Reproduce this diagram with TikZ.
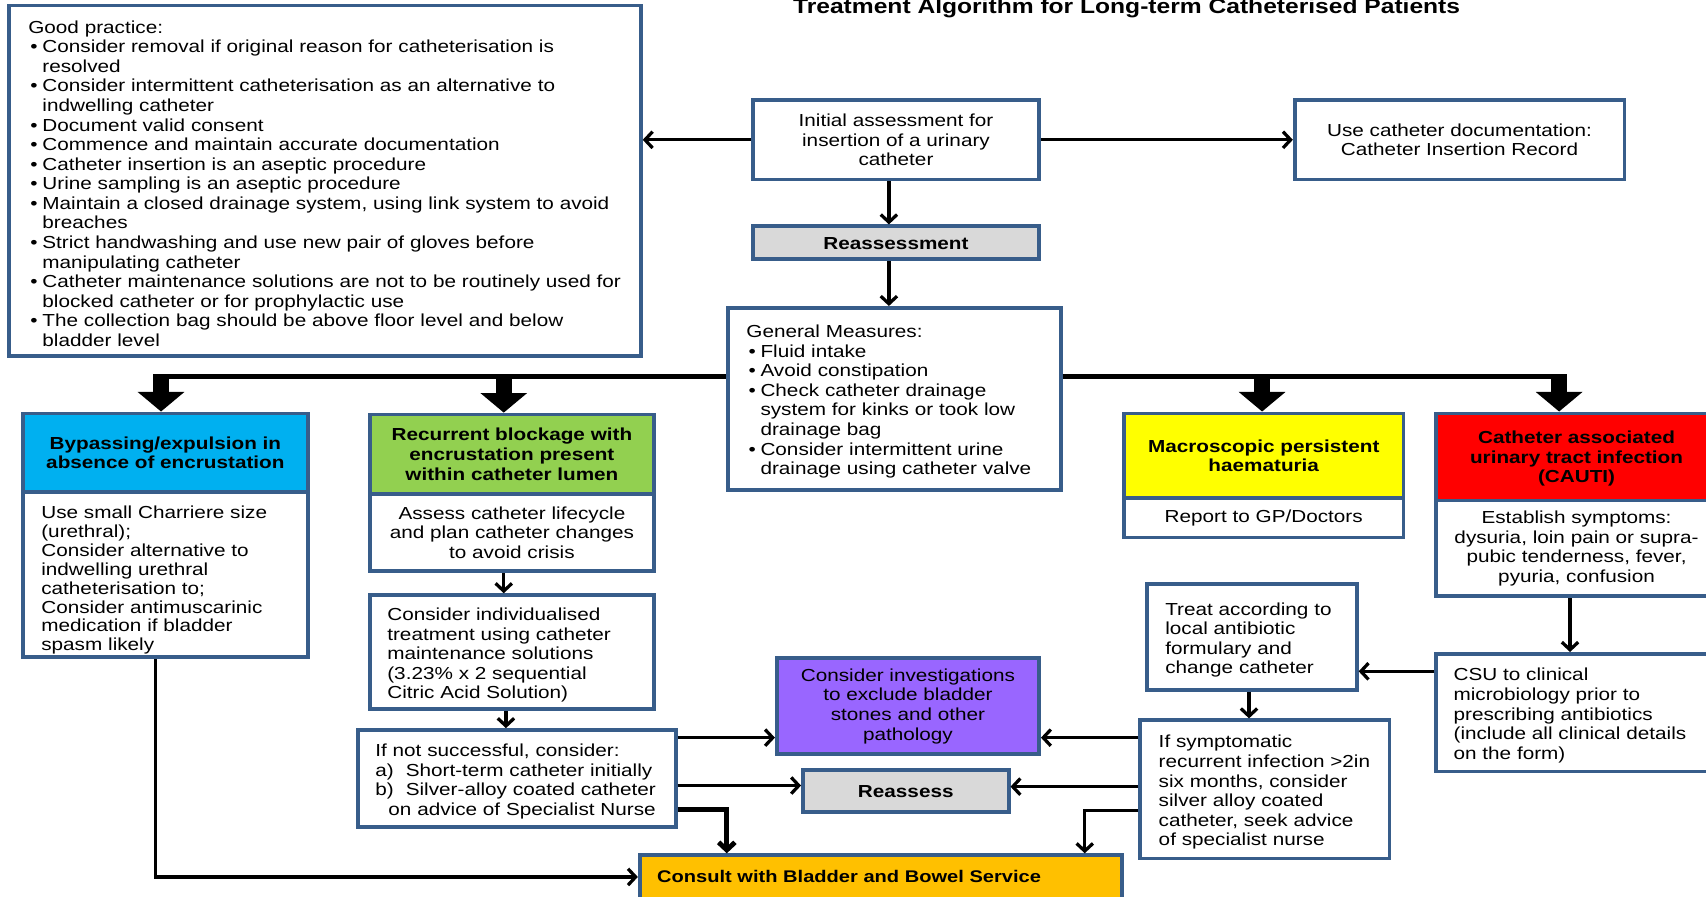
\documentclass[tikz,border=0pt]{standalone}
\usepackage{fontspec}
\setmainfont{Liberation Sans}[FakeStretch=1.19]
\usetikzlibrary{arrows.meta}
\definecolor{bordc}{RGB}{56,93,138}
\definecolor{cblue}{RGB}{0,176,240}
\definecolor{cgreen}{RGB}{146,208,80}
\definecolor{cyellow}{RGB}{255,255,0}
\definecolor{cred}{RGB}{255,0,0}
\definecolor{cpurple}{RGB}{153,102,255}
\definecolor{cgray}{RGB}{217,217,217}
\definecolor{corange}{RGB}{255,192,0}
\newcommand\normfont{\fontsize{16}{18}\selectfont}
\newcommand\topstrut{\rule{0pt}{17pt}}
\newcommand\bulline[1]{\mbox{\makebox[13pt][l]{\hspace*{2pt}•}#1}}
\newcommand\contline[1]{\mbox{\hspace*{13pt}#1}}
\begin{document}
\begin{tikzpicture}[x=1pt,y=-1pt,
  font=\normfont,
  box/.style={draw=bordc, line width=3.5pt, fill=white, inner ysep=0pt},
  cbox/.style={box, align=center, inner xsep=0pt},
  lbox/.style={box, align=left},
  hdr/.style={font=\normfont\bfseries},
  arr/.style={draw=black, line width=3pt, -{Straight Barb[length=7pt,width=15pt]}},
  arrthick/.style={arr, line width=4.5pt},
  barline/.style={draw=black, line width=4pt},
  bigarrow/.style={draw=black, line width=15pt, -{Triangle[length=18pt,width=42pt]}}
]
\useasboundingbox (0,0) rectangle (1568,824);

% title
\node[font=\fontsize{19}{22}\selectfont\bfseries, anchor=base] (title) at (1035.5,12.5)
  {Treatment Algorithm for Long-term Catheterised Patients};

% good practice
\node[lbox, text width=545pt, inner xsep=18pt, minimum height=322pt] (gp) at (298.5,166) {%
\topstrut\mbox{Good practice:}\\
\bulline{Consider removal if original reason for catheterisation is}\\
\contline{resolved}\\
\bulline{Consider intermittent catheterisation as an alternative to}\\
\contline{indwelling catheter}\\
\bulline{Document valid consent}\\
\bulline{Commence and maintain accurate documentation}\\
\bulline{Catheter insertion is an aseptic procedure}\\
\bulline{Urine sampling is an aseptic procedure}\\
\bulline{Maintain a closed drainage system, using link system to avoid}\\
\contline{breaches}\\
\bulline{Strict handwashing and use new pair of gloves before}\\
\contline{manipulating catheter}\\
\bulline{Catheter maintenance solutions are not to be routinely used for}\\
\contline{blocked catheter or for prophylactic use}\\
\bulline{The collection bag should be above floor level and below}\\
\contline{bladder level}};

% top chain
\node[cbox, minimum width=263pt, minimum height=73pt] (init) at (823.5,128.5)
  {Initial assessment for\\insertion of a urinary\\catheter};
\node[cbox, minimum width=303pt, minimum height=73pt] (doc) at (1341.5,128.5)
  {Use catheter documentation:\\Catheter Insertion Record};
\node[cbox, hdr, fill=cgray, minimum width=263pt, minimum height=30pt] (reass) at (823.5,223)
  {\rule{0pt}{13pt}Reassessment};

% general measures
\node[lbox, text width=272pt, inner xsep=17pt, minimum height=167pt] (gm) at (822,366.5) {%
\topstrut\mbox{General Measures:}\\
\bulline{Fluid intake}\\
\bulline{Avoid constipation}\\
\bulline{Check catheter drainage}\\
\contline{system for kinks or took low}\\
\contline{drainage bag}\\
\bulline{Consider intermittent urine}\\
\contline{drainage using catheter valve}};

% bypassing column
\node[cbox, hdr, fill=cblue, minimum width=262pt, minimum height=72pt] (bypH) at (152,416)
  {Bypassing/expulsion in\\absence of encrustation};
\node[lbox, font=\fontsize{16}{17.4}\selectfont, text width=228pt, inner xsep=17pt, minimum height=152pt] (bypB) at (152,528) {%
\rule{0pt}{22pt}\mbox{Use small Charriere size}\\
\mbox{(urethral);}\\
\mbox{Consider alternative to}\\
\mbox{indwelling urethral}\\
\mbox{catheterisation to;}\\
\mbox{Consider antimuscarinic}\\
\mbox{medication if bladder}\\
\mbox{spasm likely}};

% recurrent blockage column
\node[cbox, hdr, fill=cgreen, minimum width=261pt, minimum height=73pt] (recH) at (470.5,417.5)
  {Recurrent blockage with\\encrustation present\\within catheter lumen};
\node[cbox, minimum width=261pt, minimum height=71pt] (recB) at (470.5,489.5)
  {Assess catheter lifecycle\\and plan catheter changes\\to avoid crisis};
\node[lbox, text width=229pt, inner xsep=16pt, minimum height=105pt] (ind) at (470.5,599.5) {%
\topstrut\mbox{Consider individualised}\\
\mbox{treatment using catheter}\\
\mbox{maintenance solutions}\\
\mbox{(3.23\% x 2 sequential}\\
\mbox{Citric Acid Solution)}};
\node[lbox, text width=260pt, inner xsep=16pt, minimum height=89pt] (nots) at (475,715.5) {%
\topstrut\mbox{If not successful, consider:}\\
\mbox{\makebox[28pt][l]{a)}Short-term catheter initially}\\
\mbox{\makebox[28pt][l]{b)}Silver-alloy coated catheter}\\
\mbox{\hspace*{12pt}on advice of Specialist Nurse}};

% centre bottom
\node[cbox, fill=cpurple, minimum width=241pt, minimum height=88pt] (inv) at (834.5,649)
  {Consider investigations\\to exclude bladder\\stones and other\\pathology};
\node[cbox, hdr, fill=cgray, minimum width=189pt, minimum height=38pt] (reas2) at (832.5,727)
  {\rule{0pt}{13pt}Reassess};
\node[lbox, font=\fontsize{15.5}{18}\selectfont\bfseries, fill=corange, text width=411pt, inner xsep=16pt, minimum height=40pt] (cons) at (809.5,806)
  {\mbox{Consult with Bladder and Bowel Service}};

% haematuria column
\node[cbox, hdr, fill=cyellow, minimum width=257pt, minimum height=78pt] (macH) at (1161.5,419)
  {Macroscopic persistent\\haematuria};
\node[cbox, minimum width=257pt, minimum height=36pt] (macB) at (1161.5,476)
  {Report to GP/Doctors};

% CAUTI column
\node[cbox, hdr, fill=cred, minimum width=258pt, minimum height=80pt] (cauH) at (1449,420)
  {\rule{0pt}{15pt}Catheter associated\\urinary tract infection\\(CAUTI)};
\node[cbox, minimum width=258pt, minimum height=88pt] (cauB) at (1449,504)
  {Establish symptoms:\\dysuria, loin pain or supra-\\pubic tenderness, fever,\\pyuria, confusion};
\node[lbox, text width=226pt, inner xsep=16pt, minimum height=108pt] (csu) at (1449,655) {%
\topstrut\mbox{CSU to clinical}\\
\mbox{microbiology prior to}\\
\mbox{prescribing antibiotics}\\
\mbox{(include all clinical details}\\
\mbox{on the form)}};
\node[lbox, text width=159pt, inner xsep=17pt, minimum height=97pt] (treat) at (1150.5,585.5) {%
\topstrut\mbox{Treat according to}\\
\mbox{local antibiotic}\\
\mbox{formulary and}\\
\mbox{change catheter}};
\node[lbox, text width=195pt, inner xsep=17pt, minimum height=127pt] (sym) at (1162.5,725.5) {%
\topstrut\mbox{If symptomatic}\\
\mbox{recurrent infection >2in}\\
\mbox{six months, consider}\\
\mbox{silver alloy coated}\\
\mbox{catheter, seek advice}\\
\mbox{of specialist nurse}};

% distribution bar and block arrows
\coordinate (barL) at (141,346);
\coordinate (barR) at (1440,346);
\draw[barline] (gm.west |- barL) -- (barL);
\draw[barline] (gm.east |- barL) -- (barR);
\draw[bigarrow] (148,344) -- (bypH.north -| 148,0);
\draw[bigarrow] (463,344) -- (recH.north -| 463,0);
\draw[bigarrow] (1160,344) -- (macH.north -| 1160,0);
\draw[bigarrow] (1433,344) -- (cauH.north -| 1433,0);

% connectors
\draw[arr] (init.west) -- (init.west -| gp.east);
\draw[arr] (init.east) -- (doc.west);
\draw[arr] (init.south -| 817,0) -- (reass.north -| 817,0);
\draw[arr] (reass.south -| 817,0) -- (gm.north -| 817,0);
\draw[arr] (recB.south -| 463,0) -- (ind.north -| 463,0);
\draw[arr] (ind.south -| 465,0) -- (nots.north -| 465,0);
\draw[arr] (nots.east |- 0,678) -- (inv.west |- 0,678);
\draw[arr] (nots.east |- 0,722) -- (reas2.west |- 0,722);
\draw[arrthick] (nots.east |- 0,744) -| (cons.north -| 668,0);
\draw[arr] (bypB.south -| 143,0) |- (cons.west);
\draw[arr] (cauB.south -| 1443,0) -- (csu.north -| 1443,0);
\draw[arr] (csu.west |- 0,617) -- (treat.east |- 0,617);
\draw[arr] (treat.south -| 1148,0) -- (sym.north -| 1148,0);
\draw[arr] (sym.west |- 0,678) -- (inv.east |- 0,678);
\draw[arr] (sym.west |- 0,723) -- (reas2.east |- 0,723);
\draw[arr] (sym.west |- 0,745) -| (cons.north -| 997,0);
\end{tikzpicture}
\end{document}
